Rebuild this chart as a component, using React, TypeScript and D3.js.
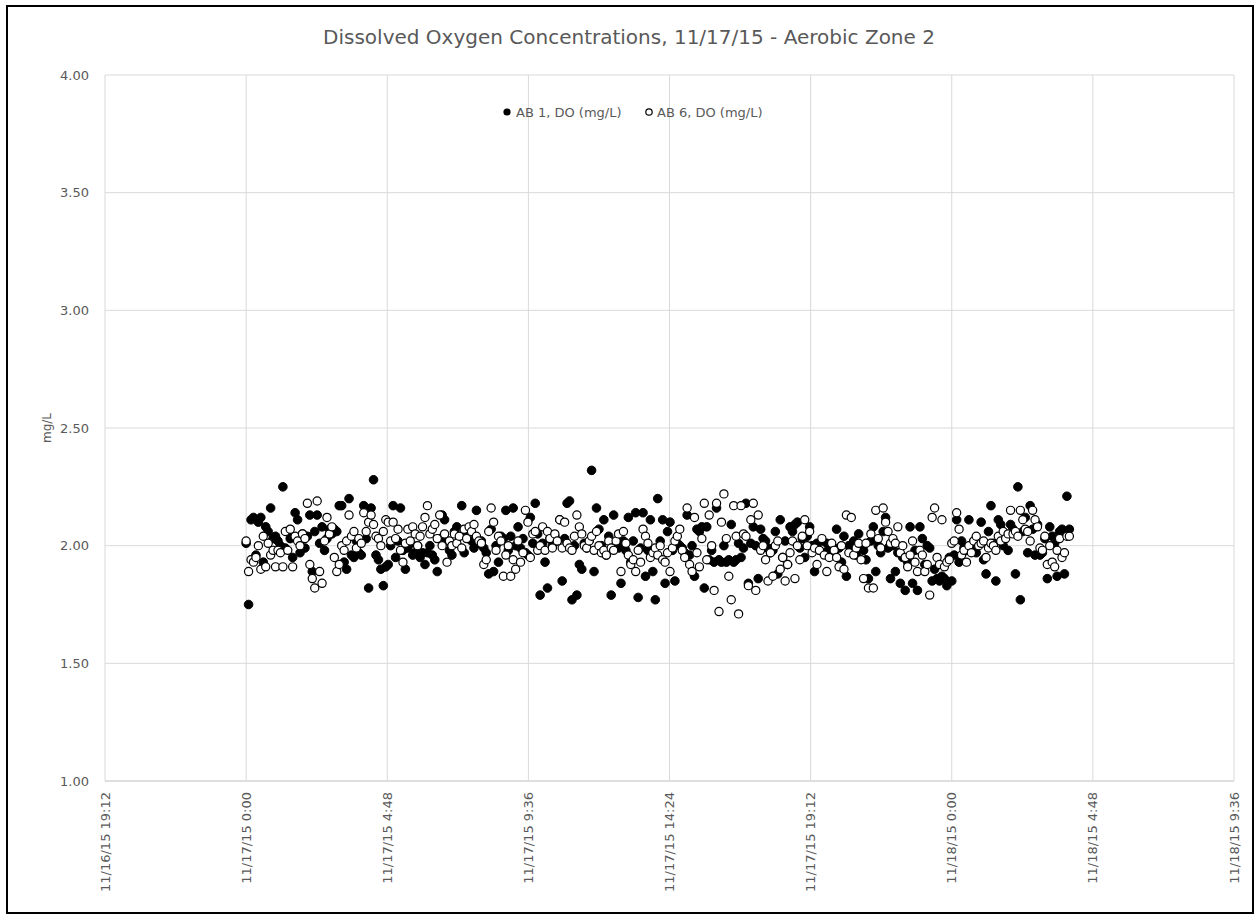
import React from 'react';
import { scaleLinear, scaleTime, timeFormat } from 'd3';

// DO readings, one every 5 minutes from 11/17/15 0:00
const START = new Date(2015, 10, 17, 0, 0);
const STEP_MIN = 5;

const AB1_DO = [
  2.01, 1.75, 2.11, 2.12, 1.96, 2.10, 2.12, 1.93, 2.08, 2.06, 2.16, 2.03,
  2.04, 2.02, 2.00, 2.25, 1.99, 2.06, 2.03, 1.95, 2.14, 2.11, 1.97, 2.05,
  1.99, 2.04, 2.13, 1.89, 2.06, 2.13, 2.01, 2.08, 1.98, 2.03, 2.07, 2.05,
  2.07, 2.06, 2.17, 2.17, 1.93, 1.90, 2.20, 1.96, 1.95, 2.02, 1.97, 1.96,
  2.17, 2.03, 1.82, 2.16, 2.28, 1.96, 1.94, 1.90, 1.83, 1.91, 1.92, 2.00,
  2.17, 1.95, 2.02, 2.16, 1.98, 1.90, 1.99, 2.01, 1.96, 1.97, 2.00, 1.95,
  1.97, 1.92, 1.97, 2.00, 1.96, 1.94, 1.89, 2.03, 2.13, 2.11, 2.02, 1.98,
  1.96, 2.06, 2.08, 2.04, 2.17, 1.97, 2.05, 2.07, 2.02, 1.99, 2.15, 2.01,
  2.02, 1.99, 1.97, 1.88, 2.07, 1.89, 2.00, 1.93, 2.04, 2.03, 2.15, 1.98,
  2.04, 2.16, 2.00, 2.08, 1.99, 2.03, 1.97, 1.96, 2.12, 2.01, 2.18, 2.05,
  1.79, 2.01, 1.93, 1.82, 2.03, 2.00, 2.04, 2.02, 2.11, 1.85, 2.03, 2.18,
  2.19, 1.77, 2.00, 1.79, 1.92, 1.90, 2.01, 1.99, 2.02, 2.32, 1.89, 2.16,
  2.07, 2.00, 2.11, 1.96, 2.04, 1.79, 2.13, 2.00, 1.99, 1.84, 2.02, 1.98,
  2.12, 1.93, 2.02, 2.14, 1.78, 1.99, 2.14, 1.87, 1.98, 2.11, 1.89, 1.77,
  2.20, 2.02, 2.11, 1.84, 2.06, 2.10, 1.98, 1.85, 2.01, 2.00, 1.99, 1.97,
  2.13, 1.96, 2.00, 1.87, 2.07, 2.06, 2.08, 1.82, 2.08, 1.94, 1.98, 1.93,
  2.16, 1.94, 1.93, 2.00, 1.93, 1.94, 2.09, 1.93, 1.94, 2.01, 1.95, 1.99,
  2.18, 1.84, 2.01, 2.08, 2.00, 1.86, 2.07, 2.03, 2.02, 1.99, 1.97, 1.98,
  2.06, 1.88, 2.11, 1.95, 2.02, 1.92, 2.08, 2.06, 2.09, 2.10, 1.99, 2.03,
  1.95, 2.04, 2.08, 2.00, 1.89, 2.01, 1.98, 2.02, 1.97, 2.01, 1.99, 1.96,
  1.97, 2.07, 1.99, 1.93, 2.04, 1.87, 2.00, 1.98, 2.02, 1.96, 2.05, 1.99,
  1.98, 1.94, 1.86, 2.02, 2.08, 1.89, 2.00, 1.97, 2.06, 2.12, 1.99, 1.86,
  2.00, 1.89, 1.97, 1.84, 1.95, 1.81, 1.93, 2.08, 1.84, 1.98, 1.81, 2.08,
  2.03, 1.92, 2.00, 1.99, 1.85, 1.90, 1.86, 1.85, 1.87, 1.86, 1.83, 1.95,
  1.85, 1.96, 2.11, 1.93, 2.02, 1.99, 1.98, 2.11, 2.00, 2.02, 1.97, 2.01,
  2.10, 1.94, 1.88, 2.06, 2.17, 2.01, 1.85, 2.11, 2.09, 2.00, 2.04, 1.98,
  2.09, 2.07, 1.88, 2.25, 1.77, 2.06, 2.12, 1.97, 2.17, 2.07, 1.96, 2.09,
  1.96, 1.97, 2.03, 1.86, 2.08, 2.04, 2.01, 1.87, 2.06, 2.07, 1.88, 2.21,
  2.07,
];

const AB6_DO = [
  2.02, 1.89, 1.94, 1.93, 1.95, 2.00, 1.90, 2.04, 1.91, 2.01, 1.96, 1.98,
  1.91, 1.98, 1.97, 1.91, 2.06, 1.98, 2.07, 1.91, 2.04, 2.02, 2.00, 2.05,
  2.03, 2.18, 1.92, 1.86, 1.82, 2.19, 1.89, 1.84, 2.02, 2.12, 2.05, 2.08,
  1.95, 1.89, 1.92, 2.00, 1.98, 2.02, 2.13, 2.04, 2.06, 1.99, 2.03, 2.01,
  2.14, 2.06, 2.10, 2.13, 2.09, 2.04, 2.03, 2.00, 2.06, 2.11, 2.10, 2.02,
  2.10, 2.03, 2.07, 1.98, 1.93, 2.01, 2.07, 2.02, 2.08, 2.05, 2.00, 2.04,
  2.08, 2.12, 2.17, 2.05, 2.07, 2.09, 2.03, 2.13, 2.00, 2.05, 1.93, 2.02,
  2.00, 2.05, 2.01, 2.04, 1.99, 2.07, 2.03, 2.08, 2.06, 2.09, 2.04, 2.02,
  2.01, 1.92, 1.94, 2.06, 2.16, 2.10, 1.98, 2.04, 2.02, 1.87, 1.96, 2.00,
  1.87, 1.94, 1.90, 2.02, 1.93, 1.97, 2.15, 2.10, 1.95, 2.05, 2.06, 1.98,
  2.00, 2.08, 1.98, 2.06, 2.03, 1.99, 2.05, 2.02, 2.11, 1.99, 2.10, 2.01,
  1.99, 1.98, 2.04, 2.13, 2.08, 2.05, 2.00, 1.99, 2.02, 2.04, 1.98, 2.06,
  2.00, 1.97, 1.98, 1.96, 2.02, 1.99, 1.98, 2.02, 2.05, 1.89, 2.06, 2.01,
  1.96, 1.92, 1.94, 1.89, 1.98, 1.93, 2.07, 2.04, 2.01, 1.95, 1.97, 1.99,
  1.96, 2.00, 1.94, 1.93, 1.97, 1.89, 1.99, 2.02, 2.04, 2.07, 1.98, 1.95,
  2.16, 1.92, 1.89, 2.12, 1.97, 1.91, 2.03, 2.18, 1.94, 2.13, 2.00, 1.81,
  2.18, 1.72, 2.10, 2.22, 2.03, 1.87, 1.77, 2.17, 2.04, 1.71, 2.17, 2.05,
  2.04, 1.83, 2.11, 2.18, 1.81, 2.13, 1.98, 2.00, 1.94, 1.85, 1.97, 1.87,
  2.00, 2.02, 1.90, 1.95, 1.85, 1.92, 1.97, 2.02, 1.86, 2.00, 1.94, 2.04,
  2.11, 2.00, 2.06, 1.97, 1.99, 1.92, 1.98, 2.03, 1.96, 1.89, 1.95, 2.01,
  1.98, 1.95, 1.91, 2.00, 1.90, 2.13, 1.97, 2.12, 1.96, 1.99, 2.01, 1.94,
  1.86, 2.01, 1.82, 2.05, 1.82, 2.15, 2.03, 1.99, 2.16, 2.10, 2.06, 2.01,
  2.03, 2.01, 2.08, 1.97, 2.00, 1.95, 1.91, 1.96, 2.02, 1.93, 1.89, 1.98,
  1.96, 1.89, 1.92, 1.79, 2.12, 2.16, 1.95, 1.92, 2.11, 1.91, 1.93, 1.94,
  2.01, 2.02, 2.14, 2.07, 1.96, 1.98, 1.93, 2.00, 1.97, 2.02, 2.04, 2.00,
  2.01, 2.02, 1.95, 1.99, 2.01, 2.00, 1.98, 2.04, 2.02, 2.06, 2.03, 2.05,
  2.15, 2.05, 2.06, 2.04, 2.15, 2.11, 2.07, 2.06, 2.02, 2.15, 2.11, 2.08,
  1.99, 1.98, 2.04, 1.92, 2.00, 1.93, 1.91, 1.98, 2.03, 1.95, 1.97, 2.04,
  2.04,
];

const X_TICKS = [
  new Date(2015, 10, 16, 19, 12),
  new Date(2015, 10, 17, 0, 0),
  new Date(2015, 10, 17, 4, 48),
  new Date(2015, 10, 17, 9, 36),
  new Date(2015, 10, 17, 14, 24),
  new Date(2015, 10, 17, 19, 12),
  new Date(2015, 10, 18, 0, 0),
  new Date(2015, 10, 18, 4, 48),
  new Date(2015, 10, 18, 9, 36),
];
const Y_TICKS = [1.0, 1.5, 2.0, 2.5, 3.0, 3.5, 4.0];

const TITLE = 'Dissolved Oxygen Concentrations, 11/17/15 - Aerobic Zone 2';
const SERIES_NAMES = ['AB 1, DO (mg/L)', 'AB 6, DO (mg/L)'];

const W = 1257;
const H = 916;
const FONT = 'DejaVu Sans, sans-serif';
const TEXT = '#595959';
const GRID = '#d9d9d9';
const fmt = timeFormat('%-m/%-d/%y %-H:%M');

export default function App() {
  const x = scaleTime().domain([X_TICKS[0], X_TICKS[X_TICKS.length - 1]]).range([105, 1234]);
  const y = scaleLinear().domain([1, 4]).range([781, 75]);
  const t = (i: number) => new Date(START.getTime() + i * STEP_MIN * 60000);

  return (
    <svg width={W} height={H} style={{ position: 'absolute', left: 0, top: 0, background: '#fff' }}>
      <rect x={0} y={0} width={W} height={H} fill="#fff" />
      <rect x={7} y={6} width={1246} height={907} fill="none" stroke="#000" strokeWidth={2} />

      <text x={629} y={44} textAnchor="middle" fontFamily={FONT} fontSize={20} fill={TEXT}>{TITLE}</text>

      {Y_TICKS.map(v => (
        <line key={'hy' + v} x1={105} x2={1234} y1={y(v)} y2={y(v)} stroke={v === 1 ? '#bfbfbf' : GRID} strokeWidth={1} />
      ))}
      {X_TICKS.map(d => (
        <line key={'vx' + d.getTime()} x1={x(d)} x2={x(d)} y1={75} y2={781} stroke={GRID} strokeWidth={1} />
      ))}

      {Y_TICKS.map(v => (
        <text key={'ty' + v} x={89} y={y(v)} dy="0.35em" textAnchor="end" fontFamily={FONT} fontSize={13} fill={TEXT}>
          {v.toFixed(2)}
        </text>
      ))}
      {X_TICKS.map(d => (
        <text
          key={'tx' + d.getTime()}
          transform={`translate(${x(d)},792) rotate(-90)`}
          dy="0.35em"
          textAnchor="end"
          fontFamily={FONT}
          fontSize={13}
          fill={TEXT}
        >
          {fmt(d)}
        </text>
      ))}
      <text transform={`translate(47,428) rotate(-90)`} textAnchor="middle" dy="0.35em" fontFamily={FONT} fontSize={12} fill={TEXT}>mg/L</text>

      <g>
        {AB1_DO.map((v, i) => (
          <circle key={'a' + i} cx={x(t(i))} cy={y(v)} r={4.3} fill="#000" stroke="#000" strokeWidth={1} />
        ))}
      </g>
      <g>
        {AB6_DO.map((v, i) => (
          <circle key={'b' + i} cx={x(t(i))} cy={y(v)} r={4.1} fill="#fff" stroke="#000" strokeWidth={1.2} />
        ))}
      </g>

      <g fontFamily={FONT} fontSize={13} fill={TEXT}>
        <circle cx={507} cy={112} r={3.6} fill="#000" />
        <text x={516} y={112} dy="0.35em">{SERIES_NAMES[0]}</text>
        <circle cx={649} cy={112} r={3.2} fill="#fff" stroke="#000" strokeWidth={1.2} />
        <text x={657} y={112} dy="0.35em">{SERIES_NAMES[1]}</text>
      </g>
    </svg>
  );
}
